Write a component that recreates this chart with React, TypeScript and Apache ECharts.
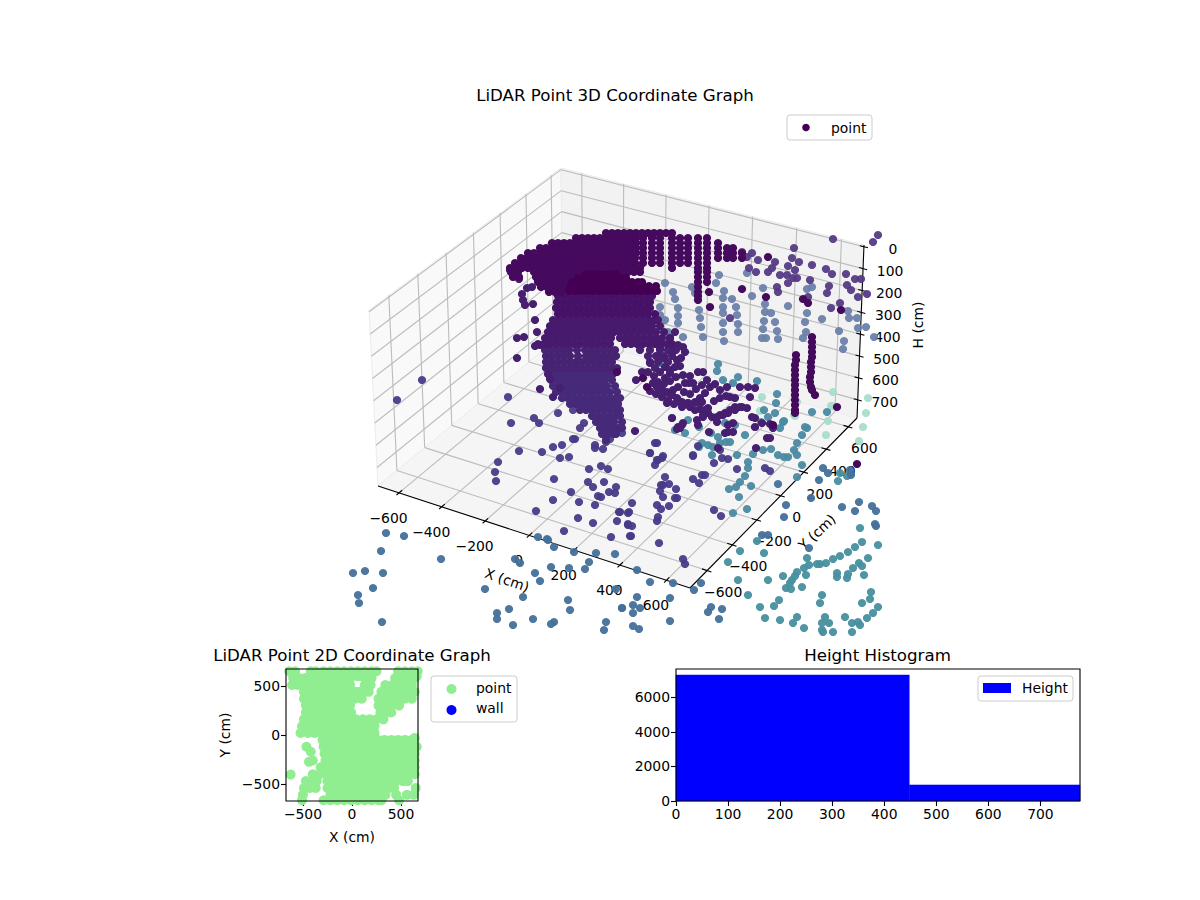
import React, { useEffect, useRef } from "react";
import * as echarts from "echarts";

const FONT = "DejaVu Sans";

// 3D axes ticks
const xTicks3d = [-600, -400, -200, 0, 200, 400, 600];
const yTicks3d = [-600, -400, -200, 0, 200, 400, 600];
const hTicks3d = [0, 100, 200, 300, 400, 500, 600, 700];

// points of the 3D plot, in view-plane units: rows are [v, u, u, u...]
const coreRows = [
  [274, 586, 592, 598, 604, 610, 616],
  [278, 578, 584, 590, 596, 602, 608, 614, 620, 626],
  [282, 572, 578, 584, 590, 596, 602, 608, 614, 620, 626, 632, 638, 642],
  [286, 571, 577, 583, 589, 595, 601, 607, 613, 619, 625, 631, 637, 643, 649, 656],
  [291, 569, 575, 581, 587, 593, 599, 605, 611, 617, 623, 629, 635, 641, 647, 653, 657],
];
const bandRows = [
  [233, 606, 612, 618, 624, 630, 636, 642, 648, 654, 660, 666, 672],
  [238, 576, 582, 588, 594, 600, 606, 612, 618, 624, 630, 636, 643, 652, 660, 672, 680, 688, 698, 707],
  [243, 552, 558, 564, 570, 576, 582, 588, 594, 600, 606, 612, 618, 624, 630, 636, 643, 652, 660, 672, 680, 688, 698, 707, 718],
  [248, 540, 546, 552, 558, 564, 570, 576, 582, 588, 594, 600, 606, 612, 618, 624, 630, 636, 643, 652, 660, 672, 680, 688, 698, 707, 718, 727, 733],
  [253, 528, 534, 540, 546, 552, 558, 564, 570, 576, 582, 588, 594, 600, 606, 612, 618, 624, 630, 636, 643, 652, 660, 672, 680, 688, 698, 707, 718, 727, 733, 742],
  [258, 521, 527, 533, 539, 545, 551, 557, 563, 569, 575, 581, 587, 593, 599, 605, 611, 617, 623, 629, 635, 643, 652, 660, 672, 680, 688, 698, 707, 718, 727, 733, 742],
  [263, 515, 521, 527, 533, 539, 545, 551, 557, 563, 569, 575, 581, 587, 593, 599, 605, 611, 617, 623, 629, 635, 643, 652, 660, 672, 680, 688, 698, 707],
  [268, 510, 516, 522, 528, 534, 540, 546, 552, 558, 564, 570, 576, 582, 588, 594, 600, 606, 612, 618, 624, 630, 636, 640, 672, 698, 707],
  [272, 511, 518, 534, 540, 546, 552, 558, 564, 570, 576, 582, 622, 628, 634, 640, 698, 707],
  [277, 513, 519, 536, 542, 548, 554, 560, 566, 572, 698, 707],
  [282, 538, 544, 550, 556, 562, 568, 698, 707],
  [287, 541, 547, 553, 559, 565, 698],
  [292, 549, 555, 561, 698],
  [296, 698],
  [300, 698],
];
const massRows = [
  [296, 558, 564, 570, 576, 582, 588, 594, 600, 606, 612, 618, 624, 630, 636, 642, 648, 652],
  [302, 557, 563, 569, 575, 581, 587, 593, 599, 605, 611, 617, 623, 629, 635, 641, 647, 650],
  [308, 556, 562, 568, 574, 580, 586, 592, 598, 604, 610, 616, 622, 628, 634, 640, 646, 650],
  [314, 558, 564, 570, 576, 582, 588, 594, 600, 606, 612, 618, 624, 630, 636, 642, 648, 655],
];
const midRows = [
  [320, 553, 559, 565, 571, 577, 583, 589, 595, 601, 607, 613, 619, 625, 631, 637, 643, 649, 655, 658],
  [326, 550, 556, 562, 568, 574, 580, 586, 592, 598, 604, 610, 616, 622, 628, 634, 640, 646, 652, 660],
  [332, 548, 554, 560, 566, 572, 578, 584, 590, 596, 602, 608, 614, 620, 626, 632, 638, 644, 650, 656, 664],
  [338, 545, 551, 557, 563, 569, 575, 581, 587, 593, 599, 605, 611, 620, 626, 632, 638, 644, 650, 656, 662, 670],
  [344, 538, 544, 550, 556, 562, 568, 574, 580, 586, 592, 598, 604, 610, 625, 631, 637, 643, 649, 655, 661, 667, 672],
];
const upperLowRows = [
  [350, 545, 551, 557, 563, 569, 577, 585, 591, 597, 603, 609, 615, 640, 650, 660, 668, 676],
  [356, 546, 552, 558, 564, 570, 578, 586, 592, 598, 604, 610, 616, 648, 656, 664, 672],
  [362, 546, 552, 558, 564, 570, 576, 582, 588, 594, 600, 606, 612, 650, 658, 668],
  [368, 546, 552, 558, 564, 570, 576, 582, 588, 594, 600, 606, 612, 617, 655],
];
const lowerRows = [
  [374, 549, 555, 561, 567, 573, 579, 585, 591, 597, 603, 609, 613],
  [380, 551, 557, 563, 569, 575, 581, 587, 593, 599, 605, 612],
  [386, 553, 559, 565, 571, 577, 583, 589, 595, 601, 607, 615],
  [392, 556, 562, 568, 574, 580, 586, 592, 598, 604, 610, 617],
  [398, 562, 568, 574, 580, 586, 592, 598, 604, 610, 616, 620],
  [404, 570, 576, 582, 588, 594, 600, 606, 612, 618],
  [410, 580, 586, 592, 598, 604, 610, 616, 620],
  [416, 592, 598, 604, 610, 616, 620],
  [422, 596, 602, 608, 614, 622],
  [428, 600, 606, 612, 618, 622],
  [434, 602, 608, 614, 616],
  [440, 606],
];

// the rest are flat u, v lists
const darkPoints = [
  768, 257, 742, 289, 709, 292, 710, 307, 766, 297, 803, 299, 808, 303, 841, 310, 815, 395, 837, 407, 857, 464, 773, 425,
  617, 372, 643, 378, 647, 387,
  812, 337, 812, 342, 812, 347, 812, 352, 812, 357, 811, 362, 811, 367, 811, 372, 810, 377, 810, 382, 811, 387, 812, 390,
  796, 355, 796, 360, 795, 365, 795, 370, 795, 375, 795, 380, 795, 385, 795, 390, 795, 395, 795, 400, 795, 405, 795, 410, 795, 413,
];
const purplePoints = [
  510, 270, 513, 276, 519, 279, 527, 288, 532, 287, 522, 294, 523, 300, 525, 305, 533, 304, 535, 320, 537, 332, 524, 337, 517, 338,
  535, 346, 540, 345, 547, 345, 517, 358, 548, 374, 550, 379, 540, 389, 553, 397, 560, 388,
  660, 340, 675, 332, 670, 338, 683, 347, 685, 352, 673, 347, 672, 353, 660, 348, 650, 363, 665, 367, 677, 360, 670, 370, 665, 378, 680, 366,
  653, 383, 657, 387, 662, 390, 667, 392, 672, 395, 677, 398, 682, 402, 688, 403, 695, 402, 700, 398, 705, 393, 710, 387, 715, 384,
  690, 376, 698, 372, 703, 372, 685, 383, 678, 387, 673, 390, 693, 383, 707, 380, 720, 390, 727, 387, 740, 387, 748, 387, 755, 388,
  735, 398, 730, 397, 750, 397, 682, 407, 708, 408, 717, 417, 723, 415, 728, 413, 735, 410, 742, 407, 755, 418, 733, 423, 728, 425,
  678, 427, 682, 425, 712, 417, 698, 425, 672, 418, 708, 413, 690, 407, 703, 417, 675, 367, 670, 373, 658, 382,
  725, 433, 728, 432, 733, 432, 717, 422, 720, 415, 725, 413, 730, 410, 735, 407, 740, 407, 747, 408, 705, 410, 703, 415, 697, 420, 683, 423,
  680, 428, 677, 429, 709, 432, 718, 448, 767, 438, 755, 427, 762, 423, 770, 424, 773, 428, 752, 417, 770, 438, 756, 448, 697, 402, 680, 402,
  688, 403, 702, 402, 667, 403, 635, 431,
  648, 372, 654, 376, 660, 372, 664, 384, 670, 381, 676, 377, 683, 375, 689, 383, 696, 389, 702, 385, 668, 400, 674, 404, 662, 397, 656, 394,
  650, 391, 695, 410, 700, 409, 714, 401, 720, 398, 726, 396, 690, 394, 684, 392, 681, 358, 678, 345, 664, 358, 658, 356, 642, 372, 636, 380,
];
const floorPoints = [
  397, 400, 422, 380, 508, 397, 511, 423, 534, 418, 539, 423, 558, 413, 573, 410, 584, 423, 580, 428, 573, 439, 575, 439, 595, 445, 595, 448,
  603, 449, 606, 442, 610, 439, 553, 447, 562, 445, 542, 452, 519, 451, 560, 458, 569, 457, 498, 462, 495, 472, 496, 481, 554, 479, 589, 469,
  601, 466, 608, 469, 588, 482, 593, 487, 604, 482, 616, 487, 615, 493, 609, 492, 598, 496, 601, 497, 571, 492, 553, 500, 579, 502, 595, 505,
  536, 511, 619, 512, 628, 513, 578, 518, 593, 523, 617, 521, 628, 525, 564, 531, 611, 537, 630, 536,
  622, 433, 620, 428, 655, 443, 657, 443, 650, 453, 662, 458, 657, 460, 655, 465, 665, 477, 669, 484, 661, 485, 663, 485, 660, 491, 676, 489,
  663, 497, 675, 498, 677, 498, 657, 505, 669, 506, 661, 509, 658, 517, 657, 521, 632, 503, 629, 512, 620, 512, 628, 524, 632, 526, 631, 536,
  659, 543, 683, 559, 685, 564, 693, 479, 699, 483, 702, 475, 705, 475, 693, 455, 714, 463, 737, 469, 728, 459, 722, 458, 720, 450, 714, 510,
  721, 516, 765, 468, 770, 471, 693, 456, 698, 446, 663, 456, 658, 460, 650, 453,
];
const upperBackPoints = [
  833, 239, 873, 242, 878, 235, 794, 248, 758, 260, 747, 257, 752, 253, 742, 252, 792, 258, 799, 262, 775, 262, 812, 265, 788, 266, 772, 268,
  768, 272, 749, 268, 756, 272, 826, 269, 832, 274, 795, 270, 787, 275, 780, 275, 797, 278, 793, 278, 810, 280, 846, 274, 855, 279, 861, 279,
  847, 285, 851, 290, 829, 286, 827, 293, 858, 297, 867, 294, 777, 287, 778, 292, 788, 283, 808, 297, 831, 308, 840, 303, 730, 318,
];
const paleWallPoints = [
  673, 292, 675, 299, 692, 287, 665, 283, 678, 308, 678, 316, 678, 323, 683, 337, 660, 307, 660, 315, 665, 320, 668, 332, 700, 318, 699, 310,
  701, 327, 703, 337, 695, 293, 716, 283, 719, 275, 724, 291, 723, 298, 732, 299, 723, 307, 723, 313, 736, 307, 737, 315, 738, 324, 723, 323,
  723, 332, 738, 332, 724, 341, 752, 296, 763, 288, 765, 304, 765, 312, 771, 313, 764, 321, 763, 329, 762, 338, 766, 338, 775, 322, 777, 331,
  778, 339, 788, 306, 807, 313, 805, 322, 806, 332, 803, 338, 807, 289, 812, 287, 822, 319, 839, 331, 844, 341, 843, 349, 858, 328, 866, 327,
  874, 337, 849, 318, 857, 318, 848, 311, 747, 273,
];
const floorTealPoints = [
  699, 447, 702, 443, 708, 445, 713, 447, 720, 443, 726, 442, 730, 442, 718, 437, 711, 433, 725, 423, 735, 425, 745, 435, 753, 454, 763, 450,
  771, 449, 778, 455, 784, 457, 788, 457, 794, 450, 797, 455, 802, 465, 797, 477, 797, 443, 802, 435, 807, 428, 783, 422, 780, 428, 775, 413,
  764, 410, 672, 418, 688, 420, 685, 433, 699, 427, 712, 455, 737, 455, 733, 513, 747, 509, 739, 497, 751, 486, 729, 489, 736, 487, 745, 476,
  740, 482, 748, 468, 748, 462, 718, 364, 717, 371, 738, 377, 757, 381, 733, 383, 723, 380, 777, 394, 776, 403, 812, 412, 827, 412, 805, 427,
  784, 421, 761, 422, 755, 427, 768, 417, 675, 430, 680, 428, 660, 363,
];
const mintPoints = [
  760, 411, 832, 406, 866, 413, 863, 427, 828, 421, 826, 435, 859, 441, 794, 415, 833, 392, 831, 406, 868, 398, 762, 397, 797, 402, 795, 416,
];
const bluePoints = [
  538, 537, 547, 539, 548, 540, 554, 547, 574, 552, 596, 553, 615, 554, 589, 562, 585, 569, 569, 568, 551, 567, 535, 573, 540, 581, 515, 559,
  520, 563, 485, 589, 523, 597, 568, 600, 570, 610, 616, 589, 622, 608, 509, 609, 497, 613, 497, 619, 533, 619, 513, 625, 554, 622, 551, 624,
  606, 622, 604, 630, 507, 633, 479, 635, 441, 559, 386, 533, 404, 536, 381, 551, 365, 571, 383, 573, 353, 573, 349, 565, 373, 588, 358, 595,
  359, 603, 382, 622,
  637, 570, 650, 582, 673, 583, 637, 597, 633, 605, 640, 608, 622, 608, 633, 613, 670, 598, 670, 621, 633, 626, 639, 629, 694, 590, 701, 583,
  708, 612, 711, 607, 722, 609, 719, 619, 778, 484, 786, 505, 784, 517, 762, 535, 768, 535, 823, 468, 828, 473, 819, 480, 811, 498, 842, 507,
  850, 470, 851, 475, 859, 502, 855, 511, 872, 506, 876, 511, 875, 524, 876, 526, 809, 548,
];
const tealPoints = [
  838, 481, 840, 473, 847, 476, 860, 528, 757, 541, 764, 553, 740, 551, 728, 562,
  862, 542, 855, 547, 848, 552, 840, 556, 833, 559, 826, 563, 820, 564, 817, 564, 807, 558, 809, 565, 804, 568, 806, 575, 797, 572, 795, 576,
  792, 580, 790, 583, 786, 588, 791, 589, 802, 587, 783, 576, 768, 580, 738, 580, 748, 595, 878, 545, 868, 558, 859, 563, 862, 566, 853, 568,
  864, 575, 848, 574, 847, 578, 837, 573, 837, 577, 822, 595, 820, 603, 871, 592, 870, 599, 862, 603, 779, 600, 774, 606, 760, 607, 765, 618,
  780, 620, 797, 617, 793, 623, 825, 617, 829, 623, 822, 623, 845, 617, 852, 623, 858, 622, 860, 625, 867, 618, 873, 613, 878, 607, 804, 628,
  781, 634, 822, 630, 823, 632, 852, 632, 833, 632,
];

// 2D plot: rows are [Y, X, X, X...] in cm
const mapRows = [
  [650, -640, -580, -420, -370, -290, -220, -150, -80, -10, 60, 130, 200, 250, 470, 540, 610, 670],
  [600, 60, 100, 620, 660],
  [580, -600, -540, -480, -410, -340, -270, -200, -130, -60, -15, 130, 200, 440, 500, 570, 640],
  [510, -610, -550, -490, -430, -360, -290, -220, -150, -80, -20, 130, 190, 340, 410, 480, 550, 610],
  [440, -490, -450, -380, -310, -240, -170, -100, -30, 30, 70, 120, 170, 300, 370, 440, 510, 570, 640],
  [370, -490, -440, -370, -300, -230, -160, -90, -20, 30, 100, 270, 340, 410, 480, 540, 610],
  [300, -470, -420, -350, -280, -210, -140, -70, -20, 270, 340, 410, 480],
  [230, -470, -430, -360, -290, -220, -150, -80, -10, 290, 360, 400],
  [160, -490, -440, -370, -300, -230, -160, -90, -20, 40, 110, 180, 250, 320],
  [90, -510, -470, -400, -330, -260, -190, -120, -50, 20, 90, 160, 230],
  [20, -525, -450, -380, -310, -240, -170, -100, -30, 40, 110, 180, 230],
  [-30, 640],
  [-50, -300, -230, -160, -90, -20, 50, 120, 190, 260, 330, 400, 470, 540, 610],
  [-120, -465, -290, -220, -150, -80, -10, 60, 130, 200, 270, 340, 410, 480, 550, 620, 660],
  [-171, -420],
  [-190, -280, -210, -140, -70, 0, 70, 140, 210, 280, 350, 420, 490, 560, 640],
  [-260, -400, -270, -200, -130, -60, 10, 80, 150, 220, 290, 360, 430, 500, 570, 640],
  [-274, -438],
  [-330, -320, -250, -180, -110, -40, 30, 100, 170, 240, 310, 380, 450, 520, 590, 640],
  [-404, -626],
  [-400, -400, -330, -260, -190, -120, -50, 20, 90, 160, 230, 300, 370, 440, 510, 580, 640],
  [-470, -470, -400, -360, -250, -180, -110, -40, 30, 100, 170, 240, 310, 380, 450, 520, 570],
  [-540, -490, -430, -370, -250, -180, -110, -40, 30, 100, 170, 240, 310, 380, 430, 650],
  [-610, -500, -220, -150, -80, -10, 60, 130, 200, 270, 340, 450, 560, 630],
  [-665, -510, -290, -220, -150, -80, -10, 60, 130, 200, 270, 300, 480],
];
const wallPoints: number[][] = [];

// histogram
const histEdges = [0, 448, 776];
const histCounts = [7300, 930];

const rowsToPoints = (rows: number[][]) => rows.flatMap(([v, ...us]) => us.map(u => [u, v]));
const flatToPoints = (flat: number[]) => flat.flatMap((n, i) => (i % 2 ? [] : [[n, flat[i + 1]]]));

const pointBands = [
  { data: flatToPoints(mintPoints), color: "#a8ddca", opacity: 0.95 },
  { data: flatToPoints(paleWallPoints), color: "#6c80a9", opacity: 0.95 },
  { data: flatToPoints(tealPoints), color: "#478f9f", opacity: 0.95 },
  { data: flatToPoints(floorTealPoints), color: "#4a8aa2", opacity: 0.95 },
  { data: flatToPoints(bluePoints), color: "#43709a", opacity: 0.95 },
  { data: flatToPoints(upperBackPoints), color: "#553a84", opacity: 0.95 },
  { data: flatToPoints(floorPoints), color: "#493a88", opacity: 0.95 },
  { data: rowsToPoints(lowerRows), color: "#462a79", opacity: 1 },
  { data: rowsToPoints(upperLowRows), color: "#472372", opacity: 1 },
  { data: flatToPoints(purplePoints), color: "#471f70", opacity: 1 },
  { data: rowsToPoints(midRows), color: "#471a6d", opacity: 1 },
  { data: rowsToPoints(massRows), color: "#461267", opacity: 1 },
  { data: rowsToPoints(bandRows), color: "#450a5e", opacity: 1 },
  { data: rowsToPoints(coreRows), color: "#440154", opacity: 1 },
  { data: flatToPoints(darkPoints), color: "#440a5c", opacity: 1 },
];

// box of the 3D axes in the view plane
const xLim = [-700, 700];
const yLim = [-733, 680];
const hLim = [-8, 783];
const floorCorners = [[378, 486], [690, 588], [857, 418], [563, 334]];
const topCorners = [[369, 310], [696, 403], [864, 245], [561, 168]];

const project = (x: number, y: number, h: number) => {
  const t = (h - hLim[0]) / (hLim[1] - hLim[0]);
  const [p0, p1, p2, p3] = floorCorners.map((c, i) => [
    topCorners[i][0] + (c[0] - topCorners[i][0]) * t,
    topCorners[i][1] + (c[1] - topCorners[i][1]) * t,
  ]);
  const s = (x - xLim[0]) / (xLim[1] - xLim[0]);
  const r = (y - yLim[0]) / (yLim[1] - yLim[0]);
  const dx1 = p1[0] - p2[0], dx2 = p3[0] - p2[0], sx = p0[0] - p1[0] + p2[0] - p3[0];
  const dy1 = p1[1] - p2[1], dy2 = p3[1] - p2[1], sy = p0[1] - p1[1] + p2[1] - p3[1];
  const den = dx1 * dy2 - dx2 * dy1;
  const g = (sx * dy2 - dx2 * sy) / den;
  const k = (dx1 * sy - sx * dy1) / den;
  const w = g * s + k * r + 1;
  return [
    ((p1[0] - p0[0] + g * p1[0]) * s + (p3[0] - p0[0] + k * p3[0]) * r + p0[0]) / w,
    ((p1[1] - p0[1] + g * p1[1]) * s + (p3[1] - p0[1] + k * p3[1]) * r + p0[1]) / w,
  ];
};

const fmt = (v: number) => String(v).replace("-", "\u2212");

const renderBox = (_params: any, api: any) => {
  const at = (x: number, y: number, h: number) => api.coord(project(x, y, h));
  const children: any[] = [];
  const [x0, x1] = xLim;
  const [y0, y1] = yLim;
  const [h0, h1] = hLim;
  const pane = (pts: number[][], fill: string) =>
    children.push({ type: "polygon", shape: { points: pts }, style: { fill, stroke: "#ececec", lineWidth: 1 } });
  const seg = (a: number[], b: number[], stroke: string, lineWidth = 1) =>
    children.push({ type: "line", shape: { x1: a[0], y1: a[1], x2: b[0], y2: b[1] }, style: { stroke, lineWidth } });
  const label = (text: string, p: number[], rotation = 0) =>
    children.push({
      type: "text",
      x: p[0],
      y: p[1],
      rotation,
      style: { text, fill: "#000", fontFamily: FONT, fontSize: 13.9, align: "center", verticalAlign: "middle" },
    });

  pane([at(x0, y0, h0), at(x0, y1, h0), at(x0, y1, h1), at(x0, y0, h1)], "#f9f9f9");
  pane([at(x0, y1, h0), at(x1, y1, h0), at(x1, y1, h1), at(x0, y1, h1)], "#f2f2f2");
  pane([at(x0, y0, h1), at(x1, y0, h1), at(x1, y1, h1), at(x0, y1, h1)], "#f5f5f5");

  const gridColor = "#bcbcbc";
  const gridWidth = 1.1;
  xTicks3d.forEach(x => {
    seg(at(x, y1, h0), at(x, y1, h1), gridColor, gridWidth);
    seg(at(x, y1, h1), at(x, y0, h1), gridColor, gridWidth);
  });
  yTicks3d.forEach(y => {
    seg(at(x0, y, h0), at(x0, y, h1), gridColor, gridWidth);
    seg(at(x0, y, h1), at(x1, y, h1), gridColor, gridWidth);
  });
  hTicks3d.forEach(h => {
    seg(at(x0, y0, h), at(x0, y1, h), gridColor, gridWidth);
    seg(at(x0, y1, h), at(x1, y1, h), gridColor, gridWidth);
  });

  seg(at(x0, y0, h1), at(x1, y0, h1), "#000", 1.1);
  seg(at(x1, y0, h1), at(x1, y1, h1), "#000", 1.1);
  seg(at(x1, y1, h1), at(x1, y1, h0), "#000", 1.1);

  xTicks3d.forEach(x => {
    seg(at(x, y0 - 18, h1), at(x, y0 + 22, h1), "#000", 1.1);
    const p = at(x, y0, h1);
    label(fmt(x), [p[0] - 10.5, p[1] + 25]);
  });
  yTicks3d.forEach(y => {
    seg(at(x1 - 22, y, h1), at(x1 + 18, y, h1), "#000", 1.1);
    const p = at(x1, y, h1);
    label(fmt(y), [p[0] + 16, p[1] + 21.5]);
  });
  hTicks3d.forEach(h => {
    seg(at(x1 - 18, y1, h), at(x1 + 18, y1, h), "#000", 1.1);
    const p = at(x1, y1, h);
    label(fmt(h), [p[0] + 27 - (String(h).length === 1 ? -2 : 0), p[1] + 2.5]);
  });

  label("X (cm)", api.coord([507, 580]), -0.33);
  label("Y (cm)", api.coord([817, 532]), 0.75);
  label("H (cm)", api.coord([918, 325]), Math.PI / 2);

  return { type: "group", children };
};

const renderHistBars = (_params: any, api: any) => {
  const start = api.coord([api.value(0), api.value(2)]);
  const end = api.coord([api.value(1), 0]);
  return {
    type: "rect",
    shape: { x: start[0], y: start[1], width: end[0] - start[0], height: end[1] - start[1] },
    style: { fill: "#0000ff", stroke: "#0000ff", lineWidth: 0.5 },
  };
};

const legendBox = (x: number, y: number, width: number, height: number) => ({
  type: "rect",
  z: 100,
  zlevel: 1,
  shape: { x, y, width, height, r: 3 },
  style: { fill: "rgba(255,255,255,0.8)", stroke: "#cccccc", lineWidth: 1 },
});
const legendDot = (cx: number, cy: number, r: number, fill: string) => ({
  type: "circle",
  z: 101,
  zlevel: 1,
  shape: { cx, cy, r },
  style: { fill },
});
const legendText = (text: string, x: number, y: number) => ({
  type: "text",
  z: 101,
  zlevel: 1,
  x,
  y,
  style: { text, fill: "#000", fontFamily: FONT, fontSize: 13.9, verticalAlign: "middle" },
});
const spine = (x: number, y: number, width: number, height: number) => ({
  type: "rect",
  z: 90,
  zlevel: 1,
  shape: { x, y, width, height },
  style: { fill: "none", stroke: "#000", lineWidth: 1.1 },
});

const tickText = { color: "#000", fontFamily: FONT, fontSize: 13.9, margin: 6 };
const tickLine = { show: true, length: 5, lineStyle: { color: "#000", width: 1.1 } };
const axisName = { color: "#000", fontFamily: FONT, fontSize: 13.9 };
const titleStyle = { color: "#000", fontFamily: FONT, fontSize: 16.67, fontWeight: "normal" as const };
const hiddenLine = { show: false, onZero: false };

const App: React.FC = () => {
  const chartRef = useRef<HTMLDivElement>(null);

  useEffect(() => {
    if (!chartRef.current) return;
    const chart = echarts.init(chartRef.current, undefined, { renderer: "svg" });

    const option: any = {
      animation: false,
      backgroundColor: "#fff",
      title: [
        { text: "LiDAR Point 3D Coordinate Graph", left: 615, top: 87, padding: 0, textAlign: "center", textStyle: titleStyle },
        { text: "LiDAR Point 2D Coordinate Graph", left: 352, top: 647, padding: 0, textAlign: "center", textStyle: titleStyle },
        { text: "Height Histogram", left: 877.5, top: 647, padding: 0, textAlign: "center", textStyle: titleStyle },
      ],
      grid: [
        { left: 352, top: 106, width: 526, height: 526 },
        { left: 286, top: 669, width: 132, height: 132 },
        { left: 676, top: 669, width: 404, height: 132 },
      ],
      xAxis: [
        { gridIndex: 0, type: "value", min: 352, max: 878, show: false },
        {
          gridIndex: 1,
          type: "value",
          min: -673,
          max: 673,
          name: "X (cm)",
          nameLocation: "middle",
          nameGap: 29,
          nameTextStyle: axisName,
          axisLine: hiddenLine,
          axisTick: { ...tickLine, customValues: [-500, 0, 500] },
          axisLabel: { ...tickText, customValues: [-500, 0, 500], formatter: (v: number) => fmt(v) },
          splitLine: { show: false },
        },
        {
          gridIndex: 2,
          type: "value",
          min: 0,
          max: 776,
          interval: 100,
          axisLine: hiddenLine,
          axisTick: tickLine,
          axisLabel: { ...tickText, showMaxLabel: false },
          splitLine: { show: false },
        },
      ],
      yAxis: [
        { gridIndex: 0, type: "value", min: 106, max: 632, inverse: true, show: false },
        {
          gridIndex: 1,
          type: "value",
          min: -673,
          max: 673,
          name: "Y (cm)",
          nameLocation: "middle",
          nameGap: 54,
          nameTextStyle: axisName,
          axisLine: hiddenLine,
          axisTick: { ...tickLine, customValues: [-500, 0, 500] },
          axisLabel: { ...tickText, customValues: [-500, 0, 500], formatter: (v: number) => fmt(v) },
          splitLine: { show: false },
        },
        {
          gridIndex: 2,
          type: "value",
          min: 0,
          max: 7650,
          axisLine: hiddenLine,
          axisTick: { ...tickLine, customValues: [0, 2000, 4000, 6000] },
          axisLabel: { ...tickText, customValues: [0, 2000, 4000, 6000], formatter: (v: number) => String(v) },
          splitLine: { show: false },
        },
      ],
      series: [
        {
          type: "custom",
          name: "box",
          xAxisIndex: 0,
          yAxisIndex: 0,
          z: 1,
          silent: true,
          data: [[352, 106]],
          renderItem: renderBox,
        },
        ...pointBands.map(band => ({
          type: "scatter",
          name: "point",
          xAxisIndex: 0,
          yAxisIndex: 0,
          z: 2,
          symbolSize: 8.2,
          itemStyle: { color: band.color, opacity: band.opacity },
          data: band.data,
        })),
        {
          type: "scatter",
          name: "point",
          xAxisIndex: 1,
          yAxisIndex: 1,
          symbolSize: 10,
          itemStyle: { color: "#90ee90", opacity: 1 },
          data: rowsToPoints(mapRows),
        },
        {
          type: "scatter",
          name: "wall",
          xAxisIndex: 1,
          yAxisIndex: 1,
          symbolSize: 10,
          itemStyle: { color: "#0000ff" },
          data: wallPoints,
        },
        {
          type: "custom",
          name: "Height",
          xAxisIndex: 2,
          yAxisIndex: 2,
          encode: { x: [0, 1], y: 2 },
          data: histCounts.map((count, i) => [histEdges[i], histEdges[i + 1], count]),
          renderItem: renderHistBars,
        },
      ],
      graphic: [
        legendBox(787, 115, 85, 25),
        legendDot(806, 127.5, 3.8, "#440154"),
        legendText("point", 831, 127.5),
        spine(286, 669, 132, 132),
        legendBox(431, 676, 86, 46),
        legendDot(451.5, 689, 5, "#90ee90"),
        legendText("point", 476, 688),
        legendDot(451.5, 710, 5, "#0000ff"),
        legendText("wall", 476, 708),
        spine(676, 669, 404, 132),
        legendBox(978, 676, 95, 25),
        { type: "rect", z: 101, zlevel: 1, shape: { x: 983, y: 683, width: 28, height: 10 }, style: { fill: "#0000ff" } },
        legendText("Height", 1022, 688),
      ],
    };

    chart.setOption(option);
    return () => chart.dispose();
  }, []);

  return <div ref={chartRef} style={{ position: "absolute", left: 0, top: 0, width: 1200, height: 900 }} />;
};

export default App;
